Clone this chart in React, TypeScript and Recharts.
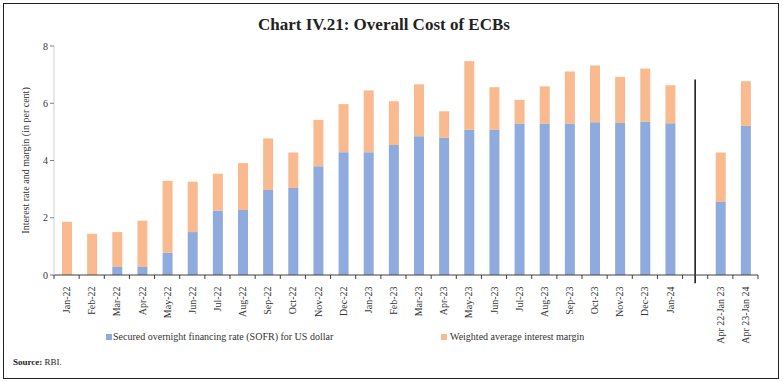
import React from 'react';
import { BarChart, Bar, XAxis, YAxis, ReferenceLine } from 'recharts';

const categories = [
  'Jan-22', 'Feb-22', 'Mar-22', 'Apr-22', 'May-22', 'Jun-22', 'Jul-22', 'Aug-22', 'Sep-22', 'Oct-22', 'Nov-22', 'Dec-22',
  'Jan-23', 'Feb-23', 'Mar-23', 'Apr-23', 'May-23', 'Jun-23', 'Jul-23', 'Aug-23', 'Sep-23', 'Oct-23', 'Nov-23', 'Dec-23',
  'Jan-24', ' ', 'Apr 22-Jan 23', 'Apr 23-Jan 24',
];
const sofr: (number | null)[] = [
  0, 0, 0.28, 0.28, 0.78, 1.5, 2.25, 2.27, 2.97, 3.04, 3.8, 4.29,
  4.29, 4.54, 4.85, 4.79, 5.07, 5.08, 5.29, 5.29, 5.29, 5.34, 5.31, 5.36,
  5.3, null, 2.55, 5.21,
];
const total: (number | null)[] = [
  1.86, 1.44, 1.5, 1.9, 3.29, 3.26, 3.54, 3.91, 4.77, 4.28, 5.42, 5.97,
  6.45, 6.07, 6.66, 5.72, 7.47, 6.56, 6.12, 6.59, 7.11, 7.32, 6.92, 7.21,
  6.63, null, 4.28, 6.77,
];
const yTicks = [0, 2, 4, 6, 8];

const data = categories.map((c, i) => ({
  name: c,
  sofr: sofr[i],
  margin: total[i] == null || sofr[i] == null ? null : +((total[i] as number) - (sofr[i] as number)).toFixed(2),
}));

const BLUE = '#8FAADC';
const ORANGE = '#F8BA8E';
const FONT = '"Liberation Serif", "DejaVu Serif", serif';

const W = 783;
const H = 382;
const PLOT_LEFT = 54;
const PLOT_RIGHT = 758;
const AXIS_Y = 275;
const HALF = (PLOT_RIGHT - PLOT_LEFT) / categories.length / 2;

const XTick = (props: any) => {
  const { x, payload, index } = props;
  const label = payload.value as string;
  const isLast = index === categories.length - 1;
  return (
    <g>
      <line x1={x - HALF} x2={x - HALF} y1={AXIS_Y} y2={AXIS_Y + 4} stroke="#404040" strokeWidth={1} />
      {isLast && (
        <line x1={x + HALF} x2={x + HALF} y1={AXIS_Y} y2={AXIS_Y + 4} stroke="#404040" strokeWidth={1} />
      )}
      {label.trim() !== '' && (
        <text
          x={x}
          y={AXIS_Y + 8}
          transform={`rotate(-90, ${x + 3.5}, ${AXIS_Y + 8})`}
          textAnchor="end"
          fontSize={10}
          fontFamily={FONT}
          fill="#333"
        >
          {label}
        </text>
      )}
    </g>
  );
};

export default function App() {
  return (
    <div style={{ position: 'absolute', left: 0, top: 0, width: W, height: H, background: '#fff', fontFamily: FONT }}>
      <div
        style={{
          position: 'absolute', left: 3, top: 3, width: 774, height: 374,
          border: '1px solid #222', boxSizing: 'content-box',
        }}
      />
      <div
        style={{
          position: 'absolute', left: 0, top: 15, width: 768, textAlign: 'center',
          fontSize: 17, fontWeight: 'bold', color: '#222', fontFamily: FONT,
        }}
      >
        Chart IV.21: Overall Cost of ECBs
      </div>
      <div style={{ position: 'absolute', left: 0, top: 0 }}>
        <BarChart
          width={W}
          height={H}
          data={data}
          margin={{ top: 46, right: W - PLOT_RIGHT, left: 0, bottom: H - AXIS_Y - 60 }}
          barSize={10}
        >
          <XAxis
            dataKey="name"
            interval={0}
            height={60}
            tickLine={false}
            axisLine={{ stroke: '#404040', strokeWidth: 1 }}
            tick={<XTick />}
          />
          <YAxis
            width={PLOT_LEFT}
            domain={[0, 8]}
            ticks={yTicks}
            tickSize={4}
            tickLine={{ stroke: '#808080' }}
            axisLine={{ stroke: '#d0d0d0' }}
            tick={{ fontSize: 10, fontFamily: FONT, fill: '#333' }}
            label={{
              value: 'Interest rate and margin (in per cent)',
              angle: -90,
              position: 'center',
              dx: -2,
              style: { fontSize: 10, fontFamily: FONT, fill: '#333' },
            }}
          />
          <Bar dataKey="sofr" stackId="a" fill={BLUE} isAnimationActive={false} />
          <Bar dataKey="margin" stackId="a" fill={ORANGE} isAnimationActive={false} />
          <ReferenceLine
            segment={[{ x: ' ', y: 6.83 }, { x: ' ', y: -0.29 }]}
            stroke="#111"
            strokeWidth={1.5}
            ifOverflow="visible"
          />
        </BarChart>
      </div>
      <div
        style={{
          position: 'absolute', left: 106, top: 331, fontSize: 10, color: '#333', fontFamily: FONT,
          display: 'flex', alignItems: 'center', whiteSpace: 'nowrap',
        }}
      >
        <span style={{ display: 'inline-block', width: 6, height: 6, background: BLUE, marginRight: 1 }} />
        Secured overnight financing rate (SOFR) for US dollar
      </div>
      <div
        style={{
          position: 'absolute', left: 441, top: 331, fontSize: 10, color: '#333', fontFamily: FONT,
          display: 'flex', alignItems: 'center', whiteSpace: 'nowrap',
        }}
      >
        <span style={{ display: 'inline-block', width: 6, height: 6, background: ORANGE, marginRight: 3 }} />
        Weighted average interest margin
      </div>
      <div
        style={{
          position: 'absolute', left: 13, top: 357, fontSize: 9, color: '#222', fontFamily: FONT, fontWeight: 'bold',
        }}
      >
        Source: <span style={{ fontWeight: 'normal' }}>RBI.</span>
      </div>
    </div>
  );
}
